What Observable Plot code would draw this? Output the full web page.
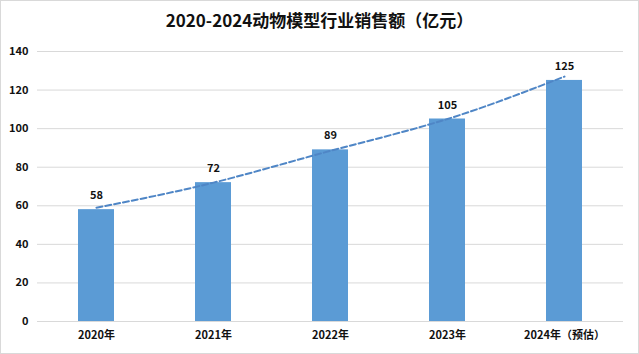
<!DOCTYPE html>
<html>
<head>
<meta charset="utf-8">
<script src="https://cdn.jsdelivr.net/npm/d3@7"></script>
<script src="https://cdn.jsdelivr.net/npm/@observablehq/plot@0.6"></script>
<style>
  html, body { margin: 0; padding: 0; background: #fff; }
  #wrap { position: relative; width: 639px; height: 354px; overflow: hidden; background: #fff; }
  #frame { position: absolute; left: 0; top: 0; width: 639px; height: 354px; box-sizing: border-box; border: 1px solid #d9d9d9; pointer-events: none; }
  #title { height: 36px; line-height: 40px; text-align: center; font-family: "Noto Sans CJK SC", sans-serif; font-weight: bold; font-size: 17px; color: #111; }
</style>
</head>
<body>
<div id="wrap">
  <div id="title">2020-2024动物模型行业销售额（亿元）</div>
  <div id="chart"></div>
  <div id="frame"></div>
</div>
<script>
const categories = ["2020年", "2021年", "2022年", "2023年", "2024年（预估）"];
const sales = [58, 72, 89, 105, 125];
const trend = [59, 72, 88.5, 105, 127];
const yTicks = [0, 20, 40, 60, 80, 100, 120, 140];

const data = categories.map((c, i) => ({cat: c, value: sales[i], trend: trend[i]}));

const chart = Plot.plot({
  width: 639,
  height: 318,
  marginTop: 15,
  marginBottom: 33,
  marginLeft: 37,
  marginRight: 16,
  style: {fontFamily: "'Noto Sans CJK SC', sans-serif", fontSize: "11px", color: "#111", background: "transparent"},
  x: {domain: categories, paddingInner: 0.69, paddingOuter: 0.345, label: null, tickSize: 0, tickPadding: 10},
  y: {domain: [0, 140], ticks: yTicks, label: null, tickSize: 0, tickPadding: 9},
  marks: [
    Plot.gridY(yTicks, {stroke: "#d9d9d9", strokeOpacity: 1}),
    Plot.barY(data, {x: "cat", y: "value", fill: "#5b9bd5"}),
    Plot.ruleY([0], {stroke: "#d9d9d9"}),
    Plot.lineY(data, {x: "cat", y: "trend", stroke: "#4f86c6", strokeWidth: 2, strokeDasharray: "6,3", curve: "natural"}),
    Plot.text(data, {x: "cat", y: "value", text: d => String(d.value), dy: -14, fontWeight: "bold", fontSize: 11, fill: "#111"}),
    Plot.axisX({tickSize: 0, tickPadding: 10, fontWeight: "bold", fontSize: 11, fill: "#111", label: null}),
    Plot.axisY(yTicks, {tickSize: 0, tickPadding: 9, fontWeight: "bold", fontSize: 11, fill: "#111", label: null})
  ]
});
document.getElementById("chart").appendChild(chart);
</script>
</body>
</html>
